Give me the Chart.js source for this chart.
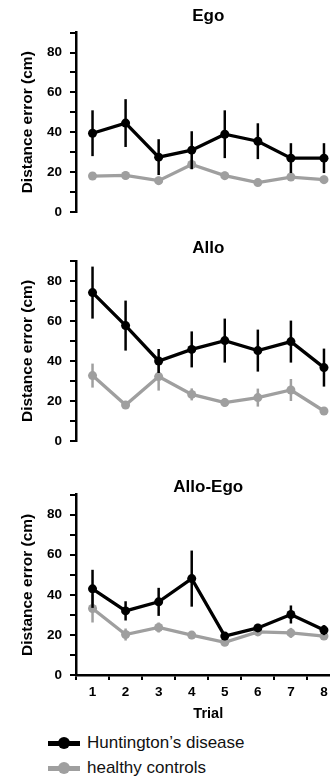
<!DOCTYPE html>
<html><head><meta charset="utf-8">
<script src="https://cdn.jsdelivr.net/npm/chart.js@4"></script>
<style>
html,body{margin:0;padding:0;background:#fff;overflow:hidden;width:330px;height:778px;position:relative}
canvas{position:absolute;left:0}
.sym{position:absolute}
.lt{position:absolute;left:87px;font:17px "Liberation Sans",Arial,sans-serif;color:#111;line-height:20px;white-space:nowrap}
</style></head><body>
<canvas id="c1" width="345" height="228" style="top:0px"></canvas>
<canvas id="c2" width="345" height="232" style="top:228px"></canvas>
<canvas id="c3" width="345" height="268" style="top:460px"></canvas>
<div id="legend"></div>
<script>
const trials = ['1','2','3','4','5','6','7','8'];
const yTickLabels = [0, 20, 40, 60, 80];
const seriesNames = ['Huntington\u2019s disease', 'healthy controls'];
const panelTitles = ['Ego', 'Allo', 'Allo-Ego'];

const egoHD = [39.5, 44.6, 27.5, 31, 39, 35.5, 27, 27];
const egoHDErr = [11.5, 12, 9, 9.5, 12, 9, 7.5, 7.5];
const egoHC = [18, 18.3, 15.7, 23.8, 18.2, 14.7, 17.5, 16.2];
const egoHCErr = [2, 2, 2, 2.5, 2, 1.5, 2, 2];

const alloHD = [74.2, 57.7, 40, 45.8, 50.2, 45.2, 49.7, 36.7];
const alloHDErr = [13, 12.5, 6, 9, 11, 10.5, 10.5, 9.5];
const alloHC = [32.7, 18, 32.2, 23.3, 19.2, 21.7, 25.5, 15];
const alloHCErr = [6, 2, 7, 3, 2, 4.5, 5.5, 1.5];

const alloEgoHD = [43, 32, 36.5, 48.1, 19.4, 23.5, 30.2, 22.4];
const alloEgoHDErr = [9.5, 4.8, 7, 14, 2, 2, 4.5, 2.5];
const alloEgoHC = [33.2, 20.2, 23.7, 19.9, 16.3, 21.5, 21, 19.4];
const alloEgoHCErr = [7, 3, 2.5, 2, 1.5, 2, 2.5, 1.5];

const HD_COLOR = '#000000';
const HC_COLOR = '#9f9f9f';

Chart.defaults.font.family = '"Liberation Sans", Arial, Helvetica, sans-serif';
Chart.defaults.color = '#000';

const errorBars = {
  id: 'errorBars',
  beforeDatasetDraw(chart, args) {
    const ds = chart.data.datasets[args.index];
    const errs = ds.errors;
    if (!errs) return;
    const y = chart.scales.y, ctx = chart.ctx;
    ctx.save();
    ctx.strokeStyle = ds.borderColor;
    ctx.lineWidth = 2.5;
    args.meta.data.forEach((pt, i) => {
      const v = ds.data[i], e = errs[i];
      ctx.beginPath();
      ctx.moveTo(pt.x, y.getPixelForValue(v - e));
      ctx.lineTo(pt.x, y.getPixelForValue(v + e));
      ctx.stroke();
    });
    ctx.restore();
  }
};

function makeChart(id, title, hd, hdErr, hc, hcErr, cfg) {
  const showX = cfg.showX;
  new Chart(document.getElementById(id), {
    type: 'line',
    data: {
      labels: trials,
      datasets: [
        { label: seriesNames[0], data: hd, errors: hdErr, borderColor: HD_COLOR, backgroundColor: HD_COLOR,
          borderWidth: 3.3, pointRadius: 4.5, pointHoverRadius: 4.5, pointBorderWidth: 0, tension: 0 },
        { label: seriesNames[1], data: hc, errors: hcErr, borderColor: HC_COLOR, backgroundColor: HC_COLOR,
          borderWidth: 3.3, pointRadius: 4.5, pointHoverRadius: 4.5, pointBorderWidth: 0, tension: 0 }
      ]
    },
    options: {
      responsive: false, animation: false, devicePixelRatio: 1,
      layout: { padding: { left: 0, right: 4, top: 0, bottom: cfg.padBottom } },
      plugins: {
        legend: { display: false }, tooltip: { enabled: false },
        title: { display: true, text: title, fullSize: false, color: '#000',
          font: { size: 17, weight: 'bold', lineHeight: 0.9 },
          padding: { top: cfg.titleTop, bottom: cfg.titleBottom } }
      },
      scales: {
        x: {
          type: 'category', offset: true, display: showX,
          grid: { display: true, offset: true, drawOnChartArea: false, drawTicks: true, tickLength: 5, color: '#000', lineWidth: 2 },
          border: { display: true, color: '#000', width: 2.5 },
          ticks: { font: { size: 13.5, weight: 'bold' }, padding: 4.6, color: '#000', maxRotation: 0 },
          title: { display: true, text: 'Trial', font: { size: 14.5, weight: 'bold' }, padding: { top: 0, bottom: 2 }, color: '#000' }
        },
        y: {
          min: 0, max: 90,
          afterFit: s => { s.width = 76; },
          grid: { display: true, drawOnChartArea: false, drawTicks: true, tickLength: 6, color: '#000', lineWidth: 2 },
          border: { display: true, color: '#000', width: 2.5 },
          ticks: { stepSize: 10, autoSkip: false, padding: 8, font: { size: 13.5, weight: 'bold' }, color: '#000',
            callback: v => yTickLabels.includes(v) ? String(v) : '' },
          title: { display: true, text: 'Distance error (cm)', font: { size: 15.5, weight: 'bold' }, color: '#000',
            padding: { top: 18, bottom: 0 } }
        }
      }
    },
    plugins: [errorBars]
  });
}

makeChart('c1', panelTitles[0], egoHD, egoHDErr, egoHC, egoHCErr, { showX: false, titleTop: 9, titleBottom: 8.35, padBottom: 16 });
makeChart('c2', panelTitles[1], alloHD, alloHDErr, alloHC, alloHCErr, { showX: false, titleTop: 12.35, titleBottom: 5.35, padBottom: 19 });
makeChart('c3', panelTitles[2], alloEgoHD, alloEgoHDErr, alloEgoHC, alloEgoHCErr, { showX: true, titleTop: 19.35, titleBottom: 0, padBottom: 3.2 });

// HTML legend
const legend = document.getElementById('legend');
const legendRows = [743, 768];
[HD_COLOR, HC_COLOR].forEach((col, i) => {
  const cy = legendRows[i];
  const line = document.createElement('div');
  line.className = 'sym';
  line.style.cssText = `left:48px;width:32px;height:5px;top:${cy-2.5}px;background:${col}`;
  const dot = document.createElement('div');
  dot.className = 'sym';
  dot.style.cssText = `left:58px;width:12px;height:12px;top:${cy-6}px;background:${col};border-radius:50%`;
  const txt = document.createElement('div');
  txt.className = 'lt';
  txt.style.top = (cy - 10) + 'px';
  txt.textContent = seriesNames[i];
  legend.appendChild(line); legend.appendChild(dot); legend.appendChild(txt);
});
</script>
</body></html>
